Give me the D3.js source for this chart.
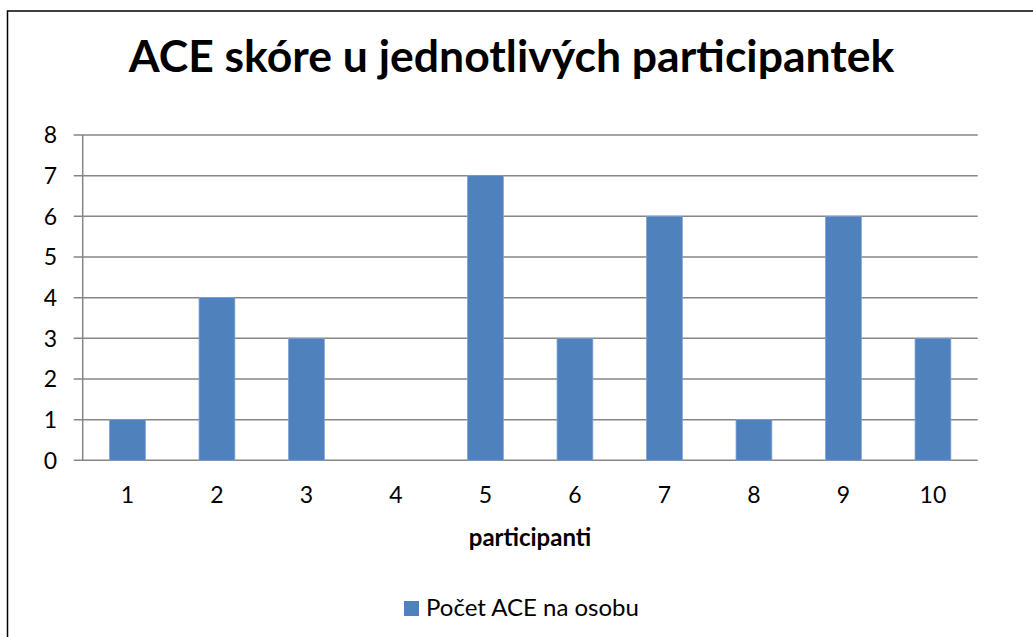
<!DOCTYPE html>
<html><head><meta charset="utf-8">
<script src="https://cdn.jsdelivr.net/npm/d3@7"></script>
<style>html,body{margin:0;padding:0;background:#fff;}svg{display:block;}</style>
</head><body>
<script>
const categories = ["1","2","3","4","5","6","7","8","9","10"];
const values = [1,4,3,0,7,3,6,1,6,3];
const yTicks = [0,1,2,3,4,5,6,7,8];
const title = "ACE skóre u jednotlivých participantek";
const xTitle = "participanti";
const seriesName = "Počet ACE na osobu";

(function(){
const W = 1033, H = 637;
const font = "Lato, 'Open Sans', sans-serif";
const svg = d3.select("body").append("svg").attr("width", W).attr("height", H);

svg.append("rect").attr("x",7.5).attr("y",11).attr("width",1040).attr("height",660)
  .attr("fill","#fff").attr("stroke","#000").attr("stroke-width",1.5);

const pl = 82.7, pr = 977.7, pt = 135, pb = 460.3;
const x = d3.scaleBand().domain(categories).range([pl, pr]).paddingInner(0.6).paddingOuter(0.3);
const y = d3.scaleLinear().domain([0,8]).range([pb, pt]);

svg.append("g").selectAll("line").data(yTicks).join("line")
  .attr("x1", pl-9).attr("x2", pr).attr("y1", d=>y(d)).attr("y2", d=>y(d))
  .attr("stroke","#868686").attr("stroke-width",1.5);
svg.append("line").attr("x1",pl).attr("x2",pl).attr("y1",pt).attr("y2",pb)
  .attr("stroke","#868686").attr("stroke-width",1.5);

svg.append("g").selectAll("rect").data(values).join("rect")
  .attr("x",(d,i)=>x(categories[i])).attr("width",x.bandwidth())
  .attr("y",d=>y(d)).attr("height",d=>pb - y(d))
  .attr("fill","#4F81BD").attr("stroke","#7FA2D3").attr("stroke-width",0.8);

svg.append("g").selectAll("text").data(yTicks).join("text")
  .attr("x",57).attr("y",d=>y(d)+8.3).attr("text-anchor","end")
  .attr("font-family",font).attr("font-size",23).attr("fill","#000").text(d=>d);

svg.append("g").selectAll("text").data(categories).join("text")
  .attr("x",d=>x(d)+x.bandwidth()/2).attr("y",503).attr("text-anchor","middle")
  .attr("font-family",font).attr("font-size",23).attr("fill","#000").text(d=>d);

svg.append("text").attr("x",530).attr("y",546).attr("text-anchor","middle")
  .attr("font-family",font).attr("font-size",24).attr("font-weight","bold").text(xTitle);

svg.append("text").attr("x",511.5).attr("y",72).attr("text-anchor","middle")
  .attr("font-family",font).attr("font-size",44.5).attr("font-weight","bold").text(title);

svg.append("rect").attr("x",404).attr("y",601).attr("width",15).attr("height",15).attr("fill","#4F81BD");
svg.append("text").attr("x",426).attr("y",616).attr("font-family",font).attr("font-size",24).text(seriesName);
})();
</script>
</body></html>
